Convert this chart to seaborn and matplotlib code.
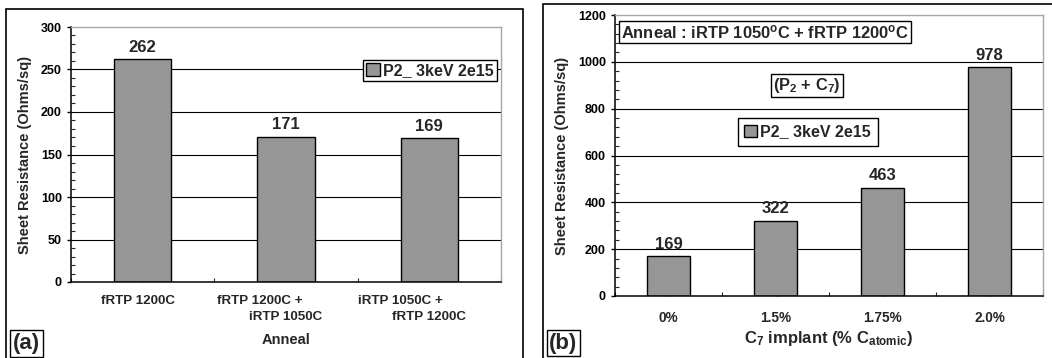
import matplotlib
matplotlib.use("Agg")
import numpy as np
import pandas as pd
import matplotlib.pyplot as plt
import seaborn as sns
from matplotlib.patches import Rectangle
from matplotlib.ticker import MultipleLocator, FixedLocator

# ---- data -------------------------------------------------------------
anneal_labels = ["fRTP 1200C", "fRTP 1200C + iRTP 1050C", "iRTP 1050C + fRTP 1200C"]
anneal_line1 = ["fRTP 1200C", "fRTP 1200C +", "iRTP 1050C +"]
anneal_line2 = ["", "iRTP 1050C", "fRTP 1200C"]
rs_anneal = [262, 171, 169]

carbon_labels = ["0%", "1.5%", "1.75%", "2.0%"]
rs_carbon = [169, 322, 463, 978]

series_name = "P2_ 3keV 2e15"

# ---- style ------------------------------------------------------------
sns.set_style("ticks")
plt.rcParams["font.family"] = ["Liberation Sans", "DejaVu Sans"]
plt.rcParams["font.weight"] = "bold"
plt.rcParams["axes.labelweight"] = "bold"
plt.rcParams["mathtext.fontset"] = "custom"
plt.rcParams["mathtext.rm"] = "Liberation Sans:bold"
plt.rcParams["mathtext.it"] = "Liberation Sans:bold"
plt.rcParams["mathtext.bf"] = "Liberation Sans:bold"

BAR = "#969696"
W, H = 1052, 358


def fx(px):
    return px / W


def fy(py):
    return 1 - py / H


fig = plt.figure(figsize=(W / 100, H / 100), dpi=100)
fig.patch.set_facecolor("white")

ax_a = fig.add_axes([fx(71), fy(282), (501 - 71) / W, (282 - 27) / H])
ax_b = fig.add_axes([fx(615), fy(296), (1043 - 615) / W, (296 - 15) / H])


def style_axes(ax, ymax, major, minor, ncat, ylab_x):
    ax.set_xlim(-0.5, ncat - 0.5)
    ax.set_ylim(0, ymax)
    ax.yaxis.set_major_locator(MultipleLocator(major))
    ax.yaxis.set_minor_locator(MultipleLocator(minor))
    ax.xaxis.set_minor_locator(FixedLocator(np.arange(-0.5, ncat)))
    ax.tick_params(axis="y", which="major", direction="out", length=3,
                   width=1, pad=3.5, labelsize=9, colors="black")
    ax.tick_params(axis="y", which="minor", direction="in", length=3,
                   width=0.8, left=True)
    ax.tick_params(axis="x", which="both", direction="in", length=3,
                   width=0.8, bottom=True)
    for t in ax.get_yticks():
        if 0 < t < ymax:
            ax.axhline(t, color="black", lw=0.8, zorder=0.5)
    for s in ("left", "bottom"):
        ax.spines[s].set_color("black")
        ax.spines[s].set_linewidth(1.1)
    for s in ("top", "right"):
        ax.spines[s].set_visible(True)
        ax.spines[s].set_color("#a6a6a6")
        ax.spines[s].set_linewidth(1)
    ax.set_ylabel("Sheet Resistance (Ohms/sq)", fontsize=10.5, fontweight="bold")
    ax.yaxis.set_label_coords(ylab_x, 0.5)
    ax.yaxis.label.set_va("center")
    for lab in ax.get_yticklabels():
        lab.set_fontweight("bold")


# ---- panel (a): anneal sequence ----------------------------------------
df_a = pd.DataFrame({"anneal": anneal_labels, "rs": rs_anneal})
sns.barplot(data=df_a, x="anneal", y="rs", color=BAR, saturation=1,
            edgecolor="black", linewidth=1, width=0.4, label=series_name,
            ax=ax_a, zorder=2)
style_axes(ax_a, 300, 50, 10, len(anneal_labels), (25 - 71) / 430)
ax_a.bar_label(ax_a.containers[0], labels=[str(v) for v in rs_anneal],
               padding=3, fontsize=12, fontweight="bold")
ax_a.set_xticks(range(len(anneal_labels)))
ax_a.set_xticklabels([""] * len(anneal_labels))
ax_a.set_xlabel("Anneal", fontsize=10.5, fontweight="bold")
ax_a.xaxis.set_label_coords(0.5, -58 / 255)
ax_a.xaxis.label.set_va("center")

line1_shift = [-0.03, -0.18, -0.2]
xtrans = ax_a.get_xaxis_transform()
for i, (l1, l2, dx) in enumerate(zip(anneal_line1, anneal_line2, line1_shift)):
    ax_a.annotate(l1, xy=(i + dx, 0), xycoords=xtrans, xytext=(0, -13.7),
                  textcoords="offset points", ha="center", va="center",
                  fontsize=9.6, fontweight="bold")
    if l2:
        ax_a.annotate(l2, xy=(i, 0), xycoords=xtrans, xytext=(0, -25.2),
                      textcoords="offset points", ha="center", va="center",
                      fontsize=9.6, fontweight="bold")

leg_a = ax_a.legend(loc="upper right", bbox_to_anchor=(fx(497), fy(60)),
                    bbox_transform=fig.transFigure, frameon=True,
                    fancybox=False, edgecolor="black", framealpha=1,
                    borderaxespad=0, borderpad=0.2, handlelength=0.85,
                    handleheight=0.85, handletextpad=0.2,
                    prop=dict(size=11.5, weight="bold"))
leg_a.get_frame().set_linewidth(1)

# ---- panel (b): carbon co-implant --------------------------------------
df_b = pd.DataFrame({"carbon": carbon_labels, "rs": rs_carbon})
sns.barplot(data=df_b, x="carbon", y="rs", color=BAR, saturation=1,
            edgecolor="black", linewidth=1, width=0.4, label=series_name,
            ax=ax_b, zorder=2)
style_axes(ax_b, 1200, 200, 40, len(carbon_labels), (562 - 615) / 428)
ax_b.bar_label(ax_b.containers[0], labels=[str(v) for v in rs_carbon],
               padding=3, fontsize=12, fontweight="bold")
ax_b.set_xticks(range(len(carbon_labels)))
ax_b.set_xticklabels(carbon_labels, fontsize=9.8, fontweight="bold")
ax_b.tick_params(axis="x", which="major", pad=10.5)
ax_b.set_xlabel(r"C$_{7}$ implant (% C$_{atomic}$)", fontsize=12,
                fontweight="bold")
ax_b.xaxis.set_label_coords(0.5, -42 / 281)
ax_b.xaxis.label.set_va("center")

leg_b = ax_b.legend(loc="upper left", bbox_to_anchor=(fx(738), fy(118)),
                    bbox_transform=fig.transFigure, frameon=True,
                    fancybox=False, edgecolor="black", framealpha=1,
                    borderaxespad=0, borderpad=0.4, handlelength=0.8,
                    handleheight=0.8, handletextpad=0.2,
                    prop=dict(size=11.5, weight="bold"))
leg_b.get_frame().set_linewidth(1)

box = dict(boxstyle="square,pad=0.15", fc="white", ec="black", lw=1)
fig.text(fx(621), fy(32), r"Anneal : iRTP 1050$^{o}$C + fRTP 1200$^{o}$C",
         ha="left", va="center", fontsize=11.9, fontweight="bold", bbox=box)
fig.text(fx(807), fy(85.5), r"(P$_{2}$ + C$_{7}$)", ha="center", va="center",
         fontsize=11.8, fontweight="bold", bbox=box)

# ---- panel frames and letters ------------------------------------------
fig.add_artist(Rectangle((fx(6), -0.1), (523 - 6) / W, fy(9) + 0.1,
                         transform=fig.transFigure, fill=False,
                         ec="black", lw=1.2))
fig.add_artist(Rectangle((fx(543), -0.1), 0.6, fy(4) + 0.1,
                         transform=fig.transFigure, fill=False,
                         ec="black", lw=1.2))
tag_box = dict(boxstyle="square,pad=0.12", fc="white", ec="black", lw=1)
fig.text(fx(26.5), fy(343.5), "(a)", ha="center", va="center", fontsize=16,
         fontweight="bold", bbox=tag_box)
fig.text(fx(563.5), fy(343), "(b)", ha="center", va="center", fontsize=16,
         fontweight="bold", bbox=tag_box)

fig.savefig("out.png", dpi=100)
